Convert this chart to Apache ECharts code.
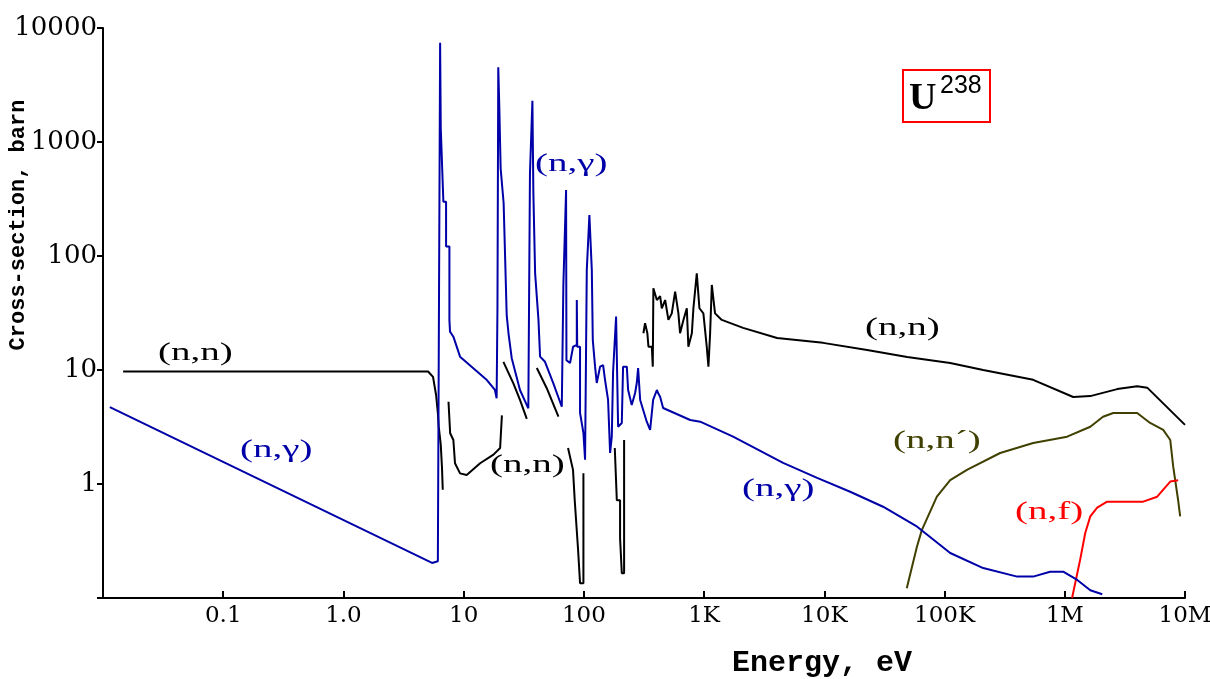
<!DOCTYPE html>
<html>
<head>
<meta charset="utf-8">
<title>U-238 cross-sections</title>
<script src="https://cdn.jsdelivr.net/npm/echarts@6/dist/echarts.min.js"></script>
<style>
  html, body { margin: 0; padding: 0; background: #fff; }
  #chart { width: 1210px; height: 679px; }
</style>
</head>
<body>
<div id="chart"></div>
<script>
// [energy eV, cross-section barn]; null = break in the curve
const elastic = [
  [0.0147, 9.7], [5.06, 9.7], [5.56, 8.7], [5.9, 6.0], [6.1, 4.2], [6.2, 3.2], [6.45, 2.2], [6.6, 1.4], [6.7, 0.89],
  null,
  [7.48, 5.27], [7.72, 2.79], [8.21, 2.43], [8.47, 1.52], [9.33, 1.24], [10.6, 1.2], [13.7, 1.52], [17.7, 1.81], [20.1, 2.07], [20.8, 4.0],
  null,
  [21.4, 11.8], [25.9, 7.64], [29.4, 5.46], [33.5, 3.73],
  null,
  [40.6, 10.4], [49.1, 6.92], [61.4, 3.89],
  null,
  [73.8, 2.07], [81.2, 1.33], [83.9, 0.72], [89.3, 0.273], [92.9, 0.135], [99.1, 0.135], [99.1, 1.24],
  null,
  [180.7, 2.07], [187.9, 0.72], [200, 0.72], [200, 0.334], [206.7, 0.165], [216, 0.165], [216, 2.43],
  null,
  [312.6, 21.0], [322.8, 25.7], [337.3, 21.0], [344.4, 16.0], [367.3, 16.0], [374.1, 10.7], [378.4, 52.1], [404.6, 41.1],
  [430.5, 44.4], [444.6, 34.8], [474.2, 41.1], [504.7, 27.5], [538.3, 31.4], [574.1, 48.7], [611.2, 31.4], [631, 21.0],
  [672.9, 27.5], [717.8, 34.8], [739.6, 16.0], [790.7, 21.0], [814.7, 34.8], [869, 70.5], [914.1, 34.8], [986, 31.4],
  [1052, 16.0], [1086, 10.7], [1122, 21.0], [1159, 55.7], [1233, 31.4], [1403, 27.5], [2110, 23.4], [4045, 19.1],
  [9770, 17.3], [22700, 15.0], [48900, 13.0], [111400, 11.5], [209600, 10.0], [546000, 8.2], [1175000, 5.8],
  [1630000, 5.9], [2730000, 6.8], [4000000, 7.2], [4850000, 7.0], [10000000, 3.3]
];

const capture = [
  [0.0114, 4.73], [5.46, 0.203], [6.1, 0.21], [6.37, 7430], [6.45, 1318], [6.78, 299], [7.14, 299], [7.14, 121],
  [7.61, 121], [7.61, 27.5], [7.7, 21.7], [8.21, 19.6], [9.33, 13.1], [15.6, 8.17], [18.2, 6.68], [18.8, 5.65],
  [19.1, 35], [19.4, 4520], [19.8, 1977], [20.3, 588], [21.5, 290], [22.8, 30.3], [23.6, 21.0], [25.1, 12.7],
  [29.4, 6.68], [34.5, 4.61], [35.6, 4.46], [35.6, 531], [37.3, 2300], [38.0, 355], [39.3, 70.5], [41.9, 27.5],
  [43.2, 13.1], [47.5, 11.8], [55.7, 7.64], [65.5, 4.76], [67.5, 55.7], [71.1, 379], [71.6, 12.2], [76.7, 11.5],
  [81.3, 16.0], [87.3, 16.6], [87.3, 41.1], [88.0, 16.0], [92.9, 16.0], [92.9, 4.2], [99.1, 2.8], [102.3, 1.63],
  [105.7, 75.4], [111.1, 229], [116.4, 75.4], [118.6, 18.3], [123.9, 10.7], [127.9, 7.69], [136.4, 10.7],
  [144.5, 11.06], [150, 8.17], [158.9, 5.46], [165.2, 1.87], [170.6, 2.6], [174.9, 9.66], [185.3, 29.4],
  [192.6, 3.18], [206.7, 3.43], [211.8, 10.7], [227.5, 10.7], [233.3, 6.68], [250, 4.93], [266.7, 6.28],
  [275.4, 7.69], [282.5, 10.4], [293.8, 5.46], [333.4, 3.52], [355.6, 2.98], [376.7, 5.46], [404.6, 6.68],
  [414, 6.28], [430.5, 5.83], [456, 4.64], [766, 3.64], [927, 3.52], [1742, 2.60], [4540, 1.53], [8710, 1.13],
  [16400, 0.855], [30800, 0.632], [59200, 0.422], [111400, 0.248], [209500, 0.183], [401800, 0.154],
  [546000, 0.154], [755000, 0.170], [970000, 0.170], [1270000, 0.144], [1630000, 0.117], [2050000, 0.108]
];

const inelastic = [
  [48500, 0.122], [58900, 0.282], [64700, 0.394], [86300, 0.774], [111400, 1.08], [153500, 1.33], [290000, 1.87],
  [546000, 2.29], [1047000, 2.60], [1630000, 3.18], [2080000, 3.89], [2530000, 4.2], [4000000, 4.2],
  [5130000, 3.43], [6590000, 2.98], [7540000, 2.43], [7980000, 1.42], [8770000, 0.72], [9120000, 0.52]
];

const fission = [
  [1150000, 0.1], [1340000, 0.215], [1480000, 0.372], [1630000, 0.52], [1860000, 0.62], [2250000, 0.70],
  [4490000, 0.70], [5870000, 0.774], [7540000, 1.05], [8770000, 1.08]
];

// tick labels by power of ten
const xTickLabels = ['0.1', '1.0', '10', '100', '1K', '10K', '100K', '1M', '10M']; // 1e-1 .. 1e7
const yTickLabels = ['1', '10', '100', '1000', '10000']; // 1e0 .. 1e4

function lineSeries(name, pts, color) {
  return {
    name: name,
    type: 'line',
    data: pts.map((p) => (p ? p : ['-', '-'])),
    showSymbol: false,
    connectNulls: false,
    clip: true,
    lineStyle: { color: color, width: 2 },
    itemStyle: { color: color },
  };
}

// curve captions: serif text stretched sideways like the original bitmap font
function note(text, x, y, color) {
  return {
    type: 'text',
    x: x,
    y: y,
    scaleX: 1.5,
    style: {
      text: text,
      fill: color,
      font: '26px "Liberation Serif"',
      verticalAlign: 'top',
    },
  };
}

const myChart = echarts.init(document.getElementById('chart'));
myChart.setOption({
  animation: false,
  backgroundColor: '#fff',
  grid: { left: 103, right: 25, top: 28, bottom: 81, containLabel: false, outerBoundsMode: 'none' },
  xAxis: {
    type: 'log',
    logBase: 10,
    min: 0.01,
    max: 1e7,
    splitNumber: 9,
    name: 'Energy, eV',
    nameLocation: 'middle',
    nameGap: 50,
    nameMoveOverlap: false,
    nameTextStyle: {
      fontFamily: 'Liberation Mono',
      fontWeight: 'bold',
      fontSize: 30,
      color: '#000',
      padding: [0, 0, 0, 356],
    },
    axisLine: { lineStyle: { color: '#000', width: 2 } },
    axisTick: { inside: true, length: 7, lineStyle: { color: '#000', width: 2 } },
    axisLabel: {
      color: '#000',
      fontFamily: 'DejaVu Serif',
      fontSize: 23,
      margin: 7,
      formatter: (v) => {
        const e = Math.round(Math.log10(v));
        return e >= -1 ? xTickLabels[e + 1] : '';
      },
    },
    splitLine: { show: false },
    minorTick: { show: false },
  },
  yAxis: {
    type: 'log',
    logBase: 10,
    min: 0.1,
    max: 10000,
    splitNumber: 5,
    name: 'Cross-section, barn',
    nameLocation: 'middle',
    nameGap: 74,
    nameMoveOverlap: false,
    nameTextStyle: {
      fontFamily: 'Liberation Mono',
      fontWeight: 'bold',
      fontSize: 22,
      color: '#000',
      padding: [0, 0, 0, 176],
    },
    axisLine: { show: true, lineStyle: { color: '#000', width: 2 } },
    axisTick: { show: true, inside: false, length: 6, lineStyle: { color: '#000', width: 2 } },
    axisLabel: {
      color: '#000',
      fontFamily: 'DejaVu Serif',
      fontSize: 26,
      margin: 6,
      formatter: (v) => {
        const e = Math.round(Math.log10(v));
        return e >= 0 ? yTickLabels[e] : '';
      },
    },
    splitLine: { show: false },
  },
  series: [
    lineSeries('(n,n)', elastic, '#000000'),
    lineSeries('(n,n´)', inelastic, '#404000'),
    lineSeries('(n,f)', fission, '#ff0000'),
    lineSeries('(n,γ)', capture, '#0000a8'),
  ],
  graphic: [
    note('(n,n)', 158, 340, '#000'),
    note('(n,γ)', 240, 437, '#0000a8'),
    note('(n,γ)', 535, 151, '#0000a8'),
    note('(n,n)', 490, 452, '#000'),
    note('(n,n)', 865, 315, '#000'),
    note('(n,γ)', 742, 476, '#0000a8'),
    note('(n,n´)', 893, 428, '#404000'),
    note('(n,f)', 1015, 499, '#ff0000'),
    {
      type: 'group',
      left: 902,
      top: 69,
      children: [
        {
          type: 'rect',
          shape: { x: 0, y: 0, width: 87, height: 52 },
          style: { fill: '#fff', stroke: '#ff0000', lineWidth: 2 },
        },
        {
          type: 'text',
          x: 6,
          y: 48,
          style: { text: 'U', font: 'bold 38px "Liberation Serif"', fill: '#000', verticalAlign: 'bottom' },
        },
        {
          type: 'text',
          x: 37,
          y: 4,
          style: { text: '238', font: '25px "Liberation Sans"', fill: '#000', verticalAlign: 'top' },
        },
      ],
    },
  ],
});
</script>
</body>
</html>
